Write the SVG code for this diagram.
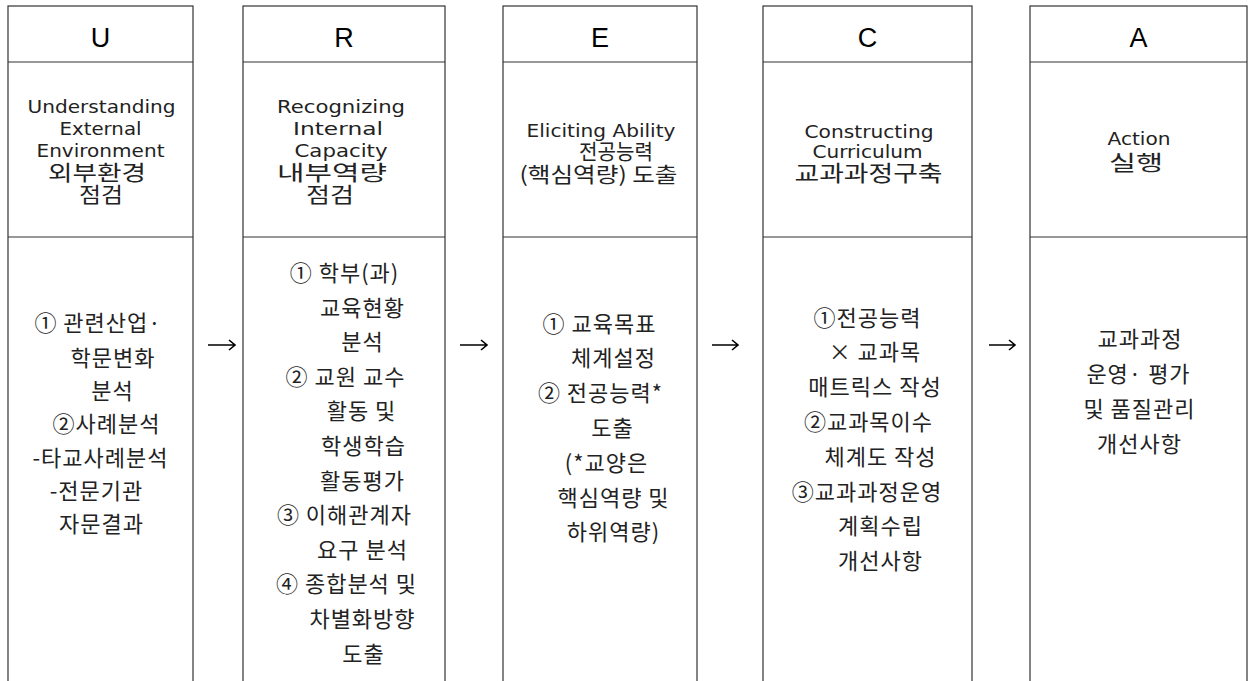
<svg xmlns="http://www.w3.org/2000/svg" width="1248" height="681" viewBox="0 0 1248 681">
<style>
.box{fill:#fff;stroke:#333;stroke-width:1.2}
.div{stroke:#333;stroke-width:1.2}
.hd{font-family:"Liberation Sans","Noto Sans CJK KR",sans-serif;font-size:27px;fill:#000;text-anchor:middle}
.en{font-family:"DejaVu Sans","Noto Sans CJK KR",sans-serif;font-size:18.5px;fill:#222;text-anchor:middle}
.ko{font-family:"Noto Sans CJK KR",sans-serif;font-size:21px;fill:#222;text-anchor:middle}
.ct{font-family:"Noto Sans CJK KR",sans-serif;font-size:22px;letter-spacing:1px;fill:#222;text-anchor:middle}
.arr{fill:none;stroke:#000;stroke-width:1.6}
</style>
<rect width="1248" height="681" fill="#fff"/>
<g id="node-U">
<rect class="box" x="8" y="6" width="185" height="700"/>
<line class="div" x1="8" y1="62" x2="193" y2="62"/>
<line class="div" x1="8" y1="237" x2="193" y2="237"/>
<text class="hd" x="100.5" y="47">U</text>
<text class="en" x="101.5" y="113" textLength="148" lengthAdjust="spacingAndGlyphs">Understanding</text>
<text class="en" x="100.5" y="135" textLength="82" lengthAdjust="spacingAndGlyphs">External</text>
<text class="en" x="100.5" y="157" textLength="128" lengthAdjust="spacingAndGlyphs">Environment</text>
<text class="ko" x="97" y="180" textLength="98" lengthAdjust="spacingAndGlyphs">외부환경</text>
<text class="ko" x="101" y="202" textLength="44" lengthAdjust="spacingAndGlyphs">점검</text>
<text class="ct" x="98" y="330.5">① 관련산업·</text>
<text class="ct" x="113" y="365.5">학문변화</text>
<text class="ct" x="112.5" y="398.5">분석</text>
<text class="ct" x="106.5" y="431.5">②사례분석</text>
<text class="ct" x="100.5" y="465.5">-타교사례분석</text>
<text class="ct" x="96.5" y="498.5">-전문기관</text>
<text class="ct" x="101.5" y="531.5">자문결과</text>
</g>
<g id="node-R">
<rect class="box" x="243" y="6" width="202" height="700"/>
<line class="div" x1="243" y1="62" x2="445" y2="62"/>
<line class="div" x1="243" y1="237" x2="445" y2="237"/>
<text class="hd" x="344" y="47">R</text>
<text class="en" x="341" y="113" textLength="128" lengthAdjust="spacingAndGlyphs">Recognizing</text>
<text class="en" x="338" y="135" textLength="90" lengthAdjust="spacingAndGlyphs">Internal</text>
<text class="en" x="341" y="157" textLength="93" lengthAdjust="spacingAndGlyphs">Capacity</text>
<text class="ko" x="332" y="180" textLength="110" lengthAdjust="spacingAndGlyphs">내부역량</text>
<text class="ko" x="330" y="202" textLength="48" lengthAdjust="spacingAndGlyphs">점검</text>
<text class="ct" x="344.5" y="281">① 학부(과)</text>
<text class="ct" x="362.5" y="315.6">교육현황</text>
<text class="ct" x="362.5" y="350.2">분석</text>
<text class="ct" x="345.5" y="384.8">② 교원 교수</text>
<text class="ct" x="361.5" y="419.4">활동 및</text>
<text class="ct" x="363.5" y="454">학생학습</text>
<text class="ct" x="362.5" y="488.6">활동평가</text>
<text class="ct" x="344.5" y="523.2">③ 이해관계자</text>
<text class="ct" x="362.5" y="557.8">요구 분석</text>
<text class="ct" x="346.5" y="592.4">④ 종합분석 및</text>
<text class="ct" x="362.5" y="627">차별화방향</text>
<text class="ct" x="363.5" y="661.6">도출</text>
</g>
<g id="node-E">
<rect class="box" x="503" y="6" width="194" height="700"/>
<line class="div" x1="503" y1="62" x2="697" y2="62"/>
<line class="div" x1="503" y1="237" x2="697" y2="237"/>
<text class="hd" x="600" y="47">E</text>
<text class="en" x="601" y="137" textLength="149" lengthAdjust="spacingAndGlyphs">Eliciting Ability</text>
<text class="ko" x="616" y="158.5" textLength="74" lengthAdjust="spacingAndGlyphs">전공능력</text>
<text class="ko" x="598.5" y="181.5" textLength="158" lengthAdjust="spacingAndGlyphs">(핵심역량) 도출</text>
<text class="ct" x="599.5" y="331.5">① 교육목표</text>
<text class="ct" x="613.5" y="366.3">체계설정</text>
<text class="ct" x="600.5" y="401.1">② 전공능력*</text>
<text class="ct" x="612.5" y="435.9">도출</text>
<text class="ct" x="606.5" y="470.7">(*교양은</text>
<text class="ct" x="613.5" y="505.5">핵심역량 및</text>
<text class="ct" x="613.5" y="540.3">하위역량)</text>
</g>
<g id="node-C">
<rect class="box" x="763" y="6" width="209" height="700"/>
<line class="div" x1="763" y1="62" x2="972" y2="62"/>
<line class="div" x1="763" y1="237" x2="972" y2="237"/>
<text class="hd" x="867.5" y="47">C</text>
<text class="en" x="869" y="138" textLength="129" lengthAdjust="spacingAndGlyphs">Constructing</text>
<text class="en" x="867.5" y="158" textLength="110" lengthAdjust="spacingAndGlyphs">Curriculum</text>
<text class="ko" x="868.5" y="180.5" textLength="148" lengthAdjust="spacingAndGlyphs" style="font-size:22px">교과과정구축</text>
<text class="ct" x="867.5" y="325.5">①전공능력</text>
<text class="ct" x="875" y="360.3">× 교과목</text>
<text class="ct" x="875" y="395.1">매트릭스 작성</text>
<text class="ct" x="868.5" y="429.9">②교과목이수</text>
<text class="ct" x="880.5" y="464.7">체계도 작성</text>
<text class="ct" x="867" y="499.5">③교과과정운영</text>
<text class="ct" x="880.5" y="534.3">계획수립</text>
<text class="ct" x="880.5" y="569.1">개선사항</text>
</g>
<g id="node-A">
<rect class="box" x="1030" y="6" width="217" height="700"/>
<line class="div" x1="1030" y1="62" x2="1247" y2="62"/>
<line class="div" x1="1030" y1="237" x2="1247" y2="237"/>
<text class="hd" x="1138.5" y="47">A</text>
<text class="en" x="1139" y="145" textLength="63" lengthAdjust="spacingAndGlyphs">Action</text>
<text class="ko" x="1136" y="170" textLength="54" lengthAdjust="spacingAndGlyphs">실행</text>
<text class="ct" x="1140" y="346.5">교과과정</text>
<text class="ct" x="1138.5" y="381.5">운영· 평가</text>
<text class="ct" x="1139.5" y="416.5">및 품질관리</text>
<text class="ct" x="1139.5" y="451.5">개선사항</text>
</g>
<g id="connectors">
<path class="arr" d="M208,345 H235 M229,340 L235,345 L229,350"/>
<path class="arr" d="M460,345 H487 M481,340 L487,345 L481,350"/>
<path class="arr" d="M712,345 H738 M732,340 L738,345 L732,350"/>
<path class="arr" d="M989,345 H1015 M1009,340 L1015,345 L1009,350"/>
</g>
</svg>
